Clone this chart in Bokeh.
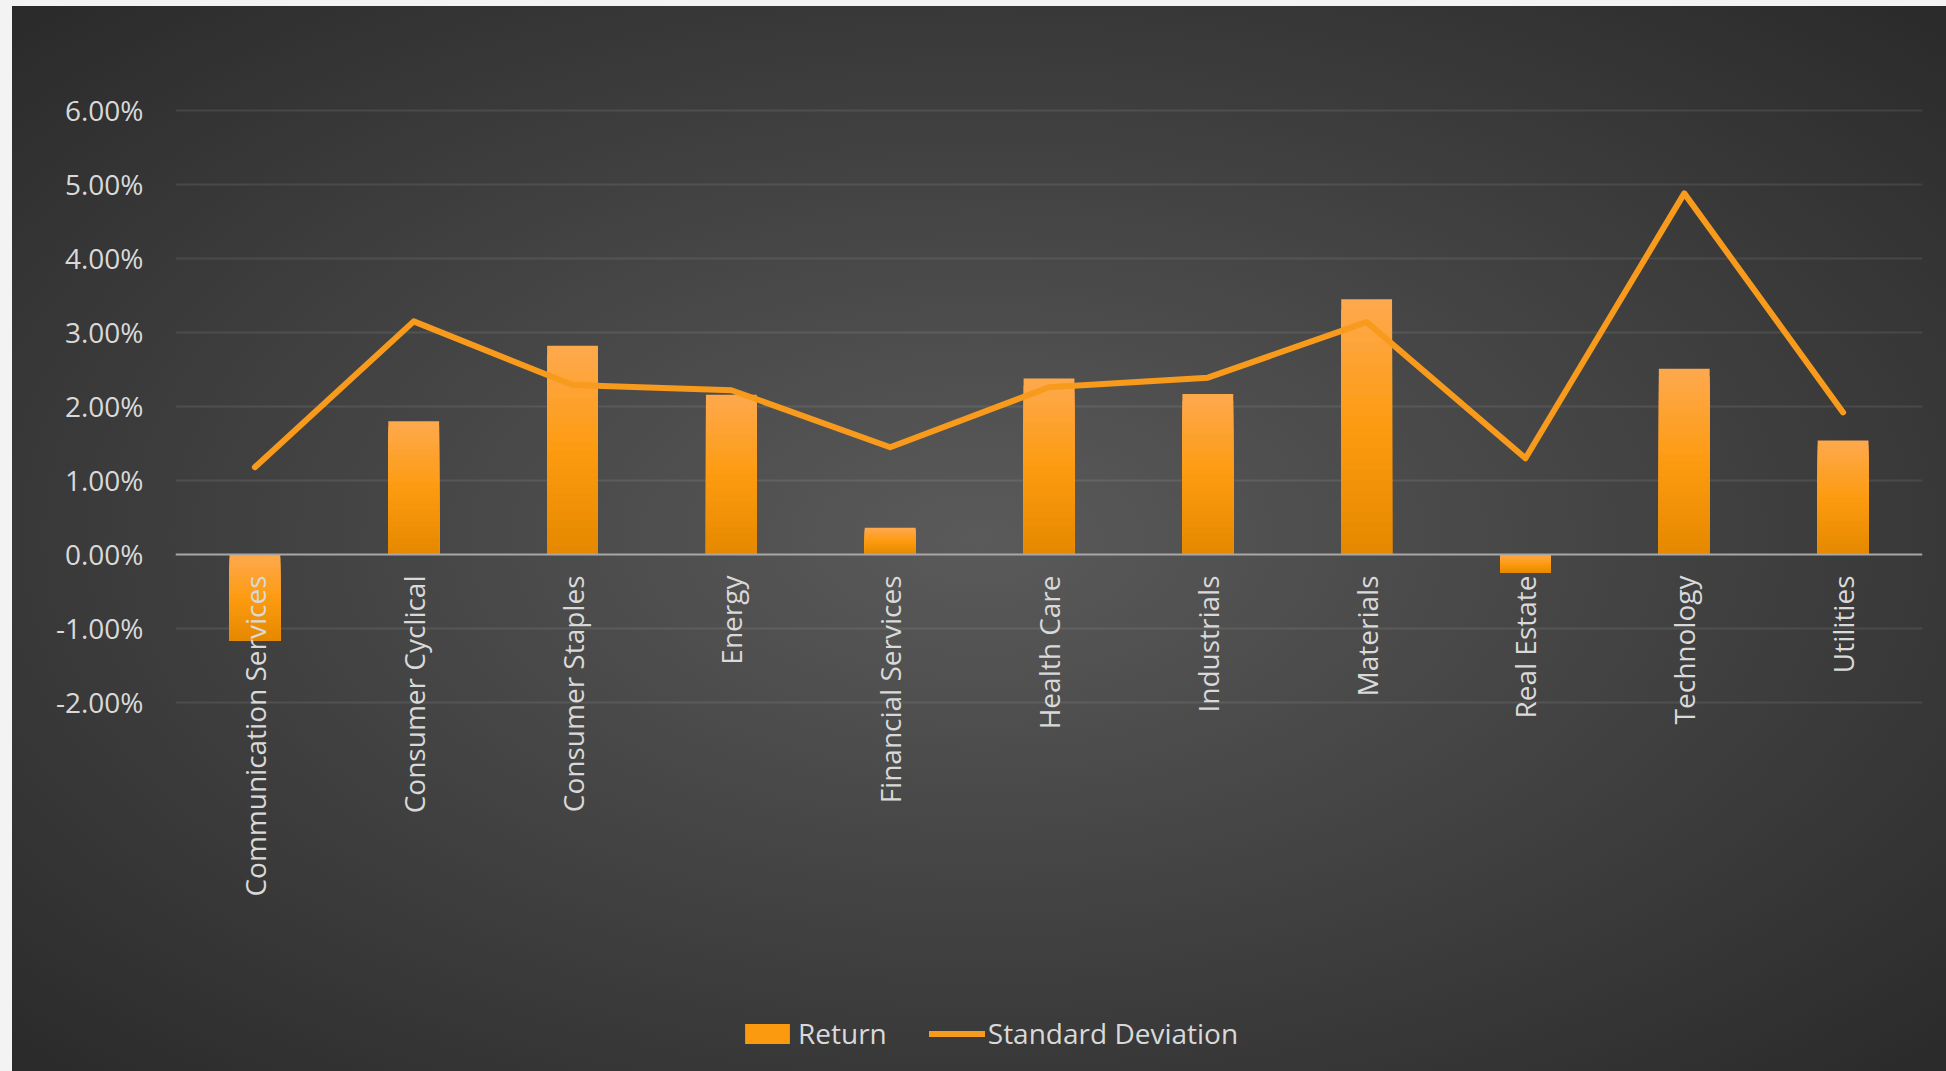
import numpy as np
from bokeh.plotting import figure
from bokeh.models import (ColumnDataSource, FixedTicker, NumeralTickFormatter, Span,
                          Legend, LegendItem, Range1d)
from bokeh.core.properties import value
from bokeh.embed import file_html
from bokeh.resources import INLINE

categories = ["Communication Services", "Consumer Cyclical", "Consumer Staples", "Energy",
              "Financial Services", "Health Care", "Industrials", "Materials",
              "Real Estate", "Technology", "Utilities"]
returns = [-0.0117, 0.0180, 0.0282, 0.0216, 0.0036, 0.0238, 0.0217, 0.0345, -0.0025, 0.0251, 0.0154]
std_dev = [0.0118, 0.0315, 0.0229, 0.0222, 0.0145, 0.0226, 0.0239, 0.0314, 0.0130, 0.0488, 0.0192]
y_ticks = [-0.02, -0.01, 0.0, 0.01, 0.02, 0.03, 0.04, 0.05, 0.06]

FONT = "Open Sans"
TXT = "#d9d9d9"

p = figure(width=1946, height=1071, x_range=categories,
           y_range=Range1d(-0.069865, 0.064054),
           output_backend="svg", toolbar_location=None, x_axis_location=None,
           min_border_left=175, min_border_right=24, min_border_top=80, min_border_bottom=0)
p.background_fill_alpha = 0
p.border_fill_alpha = 0
p.outline_line_color = None
p.styles = {"background": "radial-gradient(ellipse farthest-corner at 50% 50%, #5a5a5a 0%, #2a2a2a 100%) 12px 6px / 1934px 1065px no-repeat, #f3f3f3"}

# grid
p.xgrid.visible = False
p.ygrid.ticker = FixedTicker(ticks=[t for t in y_ticks if t != 0])
p.ygrid.grid_line_color = "#ffffff"
p.ygrid.grid_line_alpha = 0.09
p.ygrid.grid_line_width = 2

# y axis
p.yaxis.ticker = FixedTicker(ticks=y_ticks)
p.yaxis.formatter = NumeralTickFormatter(format="0.00%")
p.yaxis.axis_line_color = None
p.yaxis.major_tick_line_color = None
p.yaxis.minor_tick_line_color = None
p.yaxis.major_label_standoff = 26
p.yaxis.major_label_text_font = FONT
p.yaxis.major_label_text_font_size = "28px"
p.yaxis.major_label_text_color = TXT

# gradient bars (stacked overlapping layers, light at top, dark at bottom)
N = 24
c_top = np.array([0xfe, 0xa8, 0x4c])
c_mid = np.array([0xfd, 0x9b, 0x10])
c_bot = np.array([0xe6, 0x89, 0x00])
vals = np.array(returns)
lo = np.minimum(vals, 0)
hi = np.maximum(vals, 0)
bar_renderers = []
for k in range(N):
    f = k / (N - 1)
    if f < 0.5:
        c = c_top + (c_mid - c_top) * (f / 0.5)
    else:
        c = c_mid + (c_bot - c_mid) * ((f - 0.5) / 0.5)
    col = "#%02x%02x%02x" % tuple(int(round(v)) for v in c)
    tops = hi - (hi - lo) * k / N
    src = ColumnDataSource(dict(x=categories, top=tops, bottom=lo))
    r = p.vbar(x="x", top="top", bottom="bottom", width=0.32, source=src,
               fill_color=col, line_color=None)
    bar_renderers.append(r)

# zero line
p.add_layout(Span(location=0, dimension="width", line_color="#a8a8a8", line_width=2))

# std dev line
line_src = ColumnDataSource(dict(x=categories, y=std_dev))
line_r = p.line(x="x", y="y", source=line_src, line_color="#f89a1c", line_width=6,
                line_join="round", line_cap="round")

# category labels next to the zero line
lab_src = ColumnDataSource(dict(x=categories, y=[0.0] * len(categories), t=categories))
p.text(x="x", y="y", text="t", source=lab_src, angle=np.pi / 2, y_offset=21,
       text_align="right", text_baseline="middle", text_font=value(FONT),
       text_font_size="28px", text_color=TXT)

legend = Legend(items=[LegendItem(label="Return", renderers=[bar_renderers[N // 2]]),
                       LegendItem(label="Standard Deviation", renderers=[line_r])],
                orientation="horizontal", location=(564, 19),
                background_fill_alpha=0, border_line_color=None,
                label_text_font=FONT, label_text_font_size="28px", label_text_color=TXT,
                glyph_width=56, glyph_height=25, label_standoff=3, spacing=42,
                padding=0, margin=0)
p.add_layout(legend, "center")

open("out.html", "w").write(file_html(p, INLINE))
